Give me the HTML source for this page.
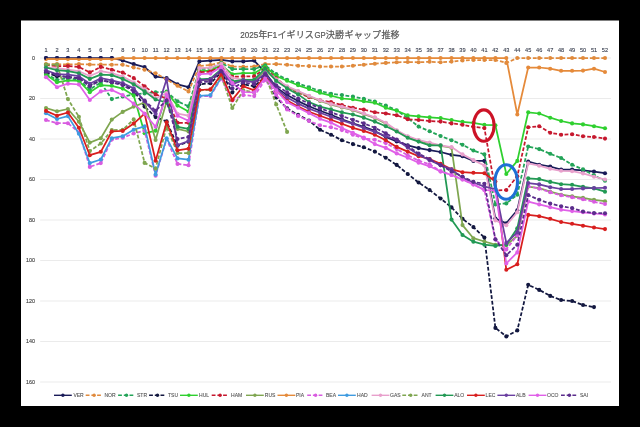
<!DOCTYPE html>
<html lang="ja"><head><meta charset="utf-8"><title>2025年F1イギリスGP決勝ギャップ推移</title>
<style>html,body{margin:0;padding:0;background:#000;}body{width:640px;height:427px;overflow:hidden;}svg{display:block;}text{font-family:"Liberation Sans","Noto Sans CJK JP",sans-serif;}</style></head><body>
<svg width="640" height="427" viewBox="0 0 640 427">
<rect x="0" y="0" width="640" height="427" fill="#000"/>
<rect x="21" y="20.5" width="598" height="385.5" fill="#fff"/>
<g stroke="#e2e2e2" stroke-width="0.7">
<line x1="40.2" x2="611" y1="58.00" y2="58.00"/>
<line x1="40.2" x2="611" y1="98.50" y2="98.50"/>
<line x1="40.2" x2="611" y1="139.00" y2="139.00"/>
<line x1="40.2" x2="611" y1="179.50" y2="179.50"/>
<line x1="40.2" x2="611" y1="220.00" y2="220.00"/>
<line x1="40.2" x2="611" y1="260.50" y2="260.50"/>
<line x1="40.2" x2="611" y1="301.00" y2="301.00"/>
<line x1="40.2" x2="611" y1="341.50" y2="341.50"/>
<line x1="40.2" x2="611" y1="382.00" y2="382.00"/>
</g>
<text y="37.7" font-size="9.1" fill="#555" stroke="#555" stroke-width="0.2"><tspan x="240.2" textLength="18" lengthAdjust="spacingAndGlyphs">2025</tspan><tspan x="258.4" textLength="8.8" lengthAdjust="spacingAndGlyphs">年</tspan><tspan x="267.2" textLength="10" lengthAdjust="spacingAndGlyphs">F1</tspan><tspan x="277.5" textLength="36.4" lengthAdjust="spacingAndGlyphs">イギリス</tspan><tspan x="314.4" textLength="11.2" lengthAdjust="spacingAndGlyphs">GP</tspan><tspan x="325.8" textLength="18.2" lengthAdjust="spacingAndGlyphs">決勝</tspan><tspan x="344.6" textLength="36.4" lengthAdjust="spacingAndGlyphs">ギャップ</tspan><tspan x="381.5" textLength="18.2" lengthAdjust="spacingAndGlyphs">推移</tspan></text>
<g font-size="5.6" fill="#3c4252" stroke="#3c4252" stroke-width="0.12" text-anchor="middle">
<text x="46.00" y="52.3">1</text>
<text x="56.96" y="52.3">2</text>
<text x="67.92" y="52.3">3</text>
<text x="78.88" y="52.3">4</text>
<text x="89.84" y="52.3">5</text>
<text x="100.80" y="52.3">6</text>
<text x="111.76" y="52.3">7</text>
<text x="122.72" y="52.3">8</text>
<text x="133.68" y="52.3">9</text>
<text x="144.64" y="52.3">10</text>
<text x="155.60" y="52.3">11</text>
<text x="166.56" y="52.3">12</text>
<text x="177.52" y="52.3">13</text>
<text x="188.48" y="52.3">14</text>
<text x="199.44" y="52.3">15</text>
<text x="210.40" y="52.3">16</text>
<text x="221.36" y="52.3">17</text>
<text x="232.32" y="52.3">18</text>
<text x="243.28" y="52.3">19</text>
<text x="254.24" y="52.3">20</text>
<text x="265.20" y="52.3">21</text>
<text x="276.16" y="52.3">22</text>
<text x="287.12" y="52.3">23</text>
<text x="298.08" y="52.3">24</text>
<text x="309.04" y="52.3">25</text>
<text x="320.00" y="52.3">26</text>
<text x="330.96" y="52.3">27</text>
<text x="341.92" y="52.3">28</text>
<text x="352.88" y="52.3">29</text>
<text x="363.84" y="52.3">30</text>
<text x="374.80" y="52.3">31</text>
<text x="385.76" y="52.3">32</text>
<text x="396.72" y="52.3">33</text>
<text x="407.68" y="52.3">34</text>
<text x="418.64" y="52.3">35</text>
<text x="429.60" y="52.3">36</text>
<text x="440.56" y="52.3">37</text>
<text x="451.52" y="52.3">38</text>
<text x="462.48" y="52.3">39</text>
<text x="473.44" y="52.3">40</text>
<text x="484.40" y="52.3">41</text>
<text x="495.36" y="52.3">42</text>
<text x="506.32" y="52.3">43</text>
<text x="517.28" y="52.3">44</text>
<text x="528.24" y="52.3">45</text>
<text x="539.20" y="52.3">46</text>
<text x="550.16" y="52.3">47</text>
<text x="561.12" y="52.3">48</text>
<text x="572.08" y="52.3">49</text>
<text x="583.04" y="52.3">50</text>
<text x="594.00" y="52.3">51</text>
<text x="604.96" y="52.3">52</text>
</g>
<g font-size="5.4" fill="#3a3a3a" stroke="#3a3a3a" stroke-width="0.1" text-anchor="end">
<text x="35" y="59.90">0</text>
<text x="35" y="100.40">20</text>
<text x="35" y="140.90">40</text>
<text x="35" y="181.40">60</text>
<text x="35" y="221.90">80</text>
<text x="35" y="262.40">100</text>
<text x="35" y="302.90">120</text>
<text x="35" y="343.40">140</text>
<text x="35" y="383.90">160</text>
</g>
<g style="filter:blur(0.3px)">
<g fill="#191b58" stroke="#191b58"><path d="M46.0,58.0 L57.0,58.0 L67.9,58.0 L78.9,58.0 L89.8,58.0 L100.8,58.0 L111.8,58.0 L122.7,60.5 L133.7,64.1 L144.6,67.1 L155.6,76.6 L166.6,78.0 L177.5,84.3 L188.5,87.2 L199.4,61.4 L210.4,60.6 L221.4,59.8 L232.3,61.4 L243.3,61.4 L254.2,60.6 L265.2,72.6 L276.2,87.4 L287.1,95.1 L298.1,101.1 L309.0,106.2 L320.0,110.7 L331.0,114.7 L341.9,119.2 L352.9,123.4 L363.8,126.8 L374.8,130.9 L385.8,137.0 L396.7,141.4 L407.7,145.3 L418.6,148.1 L429.6,150.1 L440.6,152.0 L451.5,154.8 L462.5,156.2 L473.4,160.9 L484.4,160.9 L495.4,218.6 L506.3,223.2 L517.3,210.3 L528.2,161.5 L539.2,164.7 L550.2,166.5 L561.1,169.6 L572.1,169.6 L583.0,170.4 L594.0,171.6 L605.0,173.2" fill="none" stroke-width="1.75" stroke-linejoin="round"/>
<g stroke="none"><circle cx="46.0" cy="58.0" r="2.05"/><circle cx="57.0" cy="58.0" r="2.05"/><circle cx="67.9" cy="58.0" r="2.05"/><circle cx="78.9" cy="58.0" r="2.05"/><circle cx="89.8" cy="58.0" r="2.05"/><circle cx="100.8" cy="58.0" r="2.05"/><circle cx="111.8" cy="58.0" r="2.05"/><circle cx="122.7" cy="60.5" r="2.05"/><circle cx="133.7" cy="64.1" r="2.05"/><circle cx="144.6" cy="67.1" r="2.05"/><circle cx="155.6" cy="76.6" r="2.05"/><circle cx="166.6" cy="78.0" r="2.05"/><circle cx="177.5" cy="84.3" r="2.05"/><circle cx="188.5" cy="87.2" r="2.05"/><circle cx="199.4" cy="61.4" r="2.05"/><circle cx="210.4" cy="60.6" r="2.05"/><circle cx="221.4" cy="59.8" r="2.05"/><circle cx="232.3" cy="61.4" r="2.05"/><circle cx="243.3" cy="61.4" r="2.05"/><circle cx="254.2" cy="60.6" r="2.05"/><circle cx="265.2" cy="72.6" r="2.05"/><circle cx="276.2" cy="87.4" r="2.05"/><circle cx="287.1" cy="95.1" r="2.05"/><circle cx="298.1" cy="101.1" r="2.05"/><circle cx="309.0" cy="106.2" r="2.05"/><circle cx="320.0" cy="110.7" r="2.05"/><circle cx="331.0" cy="114.7" r="2.05"/><circle cx="341.9" cy="119.2" r="2.05"/><circle cx="352.9" cy="123.4" r="2.05"/><circle cx="363.8" cy="126.8" r="2.05"/><circle cx="374.8" cy="130.9" r="2.05"/><circle cx="385.8" cy="137.0" r="2.05"/><circle cx="396.7" cy="141.4" r="2.05"/><circle cx="407.7" cy="145.3" r="2.05"/><circle cx="418.6" cy="148.1" r="2.05"/><circle cx="429.6" cy="150.1" r="2.05"/><circle cx="440.6" cy="152.0" r="2.05"/><circle cx="451.5" cy="154.8" r="2.05"/><circle cx="462.5" cy="156.2" r="2.05"/><circle cx="473.4" cy="160.9" r="2.05"/><circle cx="484.4" cy="160.9" r="2.05"/><circle cx="495.4" cy="218.6" r="2.05"/><circle cx="506.3" cy="223.2" r="2.05"/><circle cx="517.3" cy="210.3" r="2.05"/><circle cx="528.2" cy="161.5" r="2.05"/><circle cx="539.2" cy="164.7" r="2.05"/><circle cx="550.2" cy="166.5" r="2.05"/><circle cx="561.1" cy="169.6" r="2.05"/><circle cx="572.1" cy="169.6" r="2.05"/><circle cx="583.0" cy="170.4" r="2.05"/><circle cx="594.0" cy="171.6" r="2.05"/><circle cx="605.0" cy="173.2" r="2.05"/></g></g>
<g fill="#e08a3c" stroke="#e08a3c"><path d="M46.0,64.1 L57.0,64.1 L67.9,64.5 L78.9,64.1 L89.8,64.5 L100.8,64.5 L111.8,64.7 L122.7,64.7 L133.7,67.5 L144.6,69.7 L155.6,73.2 L166.6,79.5 L177.5,85.8 L188.5,91.4 L199.4,65.9 L210.4,65.1 L221.4,62.0 L232.3,66.5 L243.3,66.9 L254.2,66.5 L265.2,64.1 L276.2,64.1 L287.1,64.7 L298.1,65.7 L309.0,66.1 L320.0,66.5 L331.0,66.5 L341.9,66.5 L352.9,65.7 L363.8,64.7 L374.8,63.7 L385.8,62.9 L396.7,62.3 L407.7,62.0 L418.6,62.3 L429.6,61.8 L440.6,62.3 L451.5,61.6 L462.5,60.4 L473.4,60.0 L484.4,60.0 L495.4,60.0 L506.3,62.9 L517.3,58.0 L528.2,58.0 L539.2,58.0 L550.2,58.0 L561.1,58.0 L572.1,58.0 L583.0,58.0 L594.0,58.0 L605.0,58.0" fill="none" stroke-width="1.75" stroke-linejoin="round" stroke-dasharray="3.8,1.9"/>
<g stroke="none"><circle cx="46.0" cy="64.1" r="2.05"/><circle cx="57.0" cy="64.1" r="2.05"/><circle cx="67.9" cy="64.5" r="2.05"/><circle cx="78.9" cy="64.1" r="2.05"/><circle cx="89.8" cy="64.5" r="2.05"/><circle cx="100.8" cy="64.5" r="2.05"/><circle cx="111.8" cy="64.7" r="2.05"/><circle cx="122.7" cy="64.7" r="2.05"/><circle cx="133.7" cy="67.5" r="2.05"/><circle cx="144.6" cy="69.7" r="2.05"/><circle cx="155.6" cy="73.2" r="2.05"/><circle cx="166.6" cy="79.5" r="2.05"/><circle cx="177.5" cy="85.8" r="2.05"/><circle cx="188.5" cy="91.4" r="2.05"/><circle cx="199.4" cy="65.9" r="2.05"/><circle cx="210.4" cy="65.1" r="2.05"/><circle cx="221.4" cy="62.0" r="2.05"/><circle cx="232.3" cy="66.5" r="2.05"/><circle cx="243.3" cy="66.9" r="2.05"/><circle cx="254.2" cy="66.5" r="2.05"/><circle cx="265.2" cy="64.1" r="2.05"/><circle cx="276.2" cy="64.1" r="2.05"/><circle cx="287.1" cy="64.7" r="2.05"/><circle cx="298.1" cy="65.7" r="2.05"/><circle cx="309.0" cy="66.1" r="2.05"/><circle cx="320.0" cy="66.5" r="2.05"/><circle cx="331.0" cy="66.5" r="2.05"/><circle cx="341.9" cy="66.5" r="2.05"/><circle cx="352.9" cy="65.7" r="2.05"/><circle cx="363.8" cy="64.7" r="2.05"/><circle cx="374.8" cy="63.7" r="2.05"/><circle cx="385.8" cy="62.9" r="2.05"/><circle cx="396.7" cy="62.3" r="2.05"/><circle cx="407.7" cy="62.0" r="2.05"/><circle cx="418.6" cy="62.3" r="2.05"/><circle cx="429.6" cy="61.8" r="2.05"/><circle cx="440.6" cy="62.3" r="2.05"/><circle cx="451.5" cy="61.6" r="2.05"/><circle cx="462.5" cy="60.4" r="2.05"/><circle cx="473.4" cy="60.0" r="2.05"/><circle cx="484.4" cy="60.0" r="2.05"/><circle cx="495.4" cy="60.0" r="2.05"/><circle cx="506.3" cy="62.9" r="2.05"/><circle cx="517.3" cy="58.0" r="2.05"/><circle cx="528.2" cy="58.0" r="2.05"/><circle cx="539.2" cy="58.0" r="2.05"/><circle cx="550.2" cy="58.0" r="2.05"/><circle cx="561.1" cy="58.0" r="2.05"/><circle cx="572.1" cy="58.0" r="2.05"/><circle cx="583.0" cy="58.0" r="2.05"/><circle cx="594.0" cy="58.0" r="2.05"/><circle cx="605.0" cy="58.0" r="2.05"/></g></g>
<g fill="#23a458" stroke="#23a458"><path d="M46.0,73.8 L57.0,79.9 L67.9,78.2 L78.9,79.9 L89.8,89.4 L100.8,82.7 L111.8,99.1 L122.7,96.5 L133.7,94.4 L144.6,93.4 L155.6,92.4 L166.6,91.6 L177.5,101.3 L188.5,106.4 L199.4,69.1 L210.4,68.5 L221.4,63.1 L232.3,69.1 L243.3,69.1 L254.2,69.1 L265.2,65.3 L276.2,74.0 L287.1,79.7 L298.1,83.5 L309.0,87.2 L320.0,91.0 L331.0,93.8 L341.9,95.1 L352.9,96.5 L363.8,98.9 L374.8,101.5 L385.8,105.6 L396.7,110.2 L407.7,118.1 L418.6,126.6 L429.6,131.3 L440.6,136.0 L451.5,140.2 L462.5,144.7 L473.4,150.5 L484.4,154.4 L495.4,204.4 L506.3,203.4 L517.3,194.7 L528.2,146.5 L539.2,149.1 L550.2,153.8 L561.1,158.0 L572.1,164.7 L583.0,169.4 L594.0,175.4 L605.0,180.7" fill="none" stroke-width="1.75" stroke-linejoin="round" stroke-dasharray="3.8,1.9"/>
<g stroke="none"><circle cx="46.0" cy="73.8" r="2.05"/><circle cx="57.0" cy="79.9" r="2.05"/><circle cx="67.9" cy="78.2" r="2.05"/><circle cx="78.9" cy="79.9" r="2.05"/><circle cx="89.8" cy="89.4" r="2.05"/><circle cx="100.8" cy="82.7" r="2.05"/><circle cx="111.8" cy="99.1" r="2.05"/><circle cx="122.7" cy="96.5" r="2.05"/><circle cx="133.7" cy="94.4" r="2.05"/><circle cx="144.6" cy="93.4" r="2.05"/><circle cx="155.6" cy="92.4" r="2.05"/><circle cx="166.6" cy="91.6" r="2.05"/><circle cx="177.5" cy="101.3" r="2.05"/><circle cx="188.5" cy="106.4" r="2.05"/><circle cx="199.4" cy="69.1" r="2.05"/><circle cx="210.4" cy="68.5" r="2.05"/><circle cx="221.4" cy="63.1" r="2.05"/><circle cx="232.3" cy="69.1" r="2.05"/><circle cx="243.3" cy="69.1" r="2.05"/><circle cx="254.2" cy="69.1" r="2.05"/><circle cx="265.2" cy="65.3" r="2.05"/><circle cx="276.2" cy="74.0" r="2.05"/><circle cx="287.1" cy="79.7" r="2.05"/><circle cx="298.1" cy="83.5" r="2.05"/><circle cx="309.0" cy="87.2" r="2.05"/><circle cx="320.0" cy="91.0" r="2.05"/><circle cx="331.0" cy="93.8" r="2.05"/><circle cx="341.9" cy="95.1" r="2.05"/><circle cx="352.9" cy="96.5" r="2.05"/><circle cx="363.8" cy="98.9" r="2.05"/><circle cx="374.8" cy="101.5" r="2.05"/><circle cx="385.8" cy="105.6" r="2.05"/><circle cx="396.7" cy="110.2" r="2.05"/><circle cx="407.7" cy="118.1" r="2.05"/><circle cx="418.6" cy="126.6" r="2.05"/><circle cx="429.6" cy="131.3" r="2.05"/><circle cx="440.6" cy="136.0" r="2.05"/><circle cx="451.5" cy="140.2" r="2.05"/><circle cx="462.5" cy="144.7" r="2.05"/><circle cx="473.4" cy="150.5" r="2.05"/><circle cx="484.4" cy="154.4" r="2.05"/><circle cx="495.4" cy="204.4" r="2.05"/><circle cx="506.3" cy="203.4" r="2.05"/><circle cx="517.3" cy="194.7" r="2.05"/><circle cx="528.2" cy="146.5" r="2.05"/><circle cx="539.2" cy="149.1" r="2.05"/><circle cx="550.2" cy="153.8" r="2.05"/><circle cx="561.1" cy="158.0" r="2.05"/><circle cx="572.1" cy="164.7" r="2.05"/><circle cx="583.0" cy="169.4" r="2.05"/><circle cx="594.0" cy="175.4" r="2.05"/><circle cx="605.0" cy="180.7" r="2.05"/></g></g>
<g fill="#12173f" stroke="#12173f"><path d="M46.0,72.6 L57.0,76.2 L67.9,76.8 L78.9,78.2 L89.8,85.3 L100.8,80.3 L111.8,82.3 L122.7,84.3 L133.7,90.4 L144.6,106.6 L155.6,117.1 L166.6,121.4 L177.5,145.7 L188.5,141.8 L199.4,84.3 L210.4,83.3 L221.4,72.2 L232.3,92.4 L243.3,84.3 L254.2,86.3 L265.2,76.6 L276.2,97.5 L287.1,108.4 L298.1,114.9 L309.0,120.6 L320.0,129.7 L331.0,134.7 L341.9,140.2 L352.9,144.1 L363.8,147.3 L374.8,151.6 L385.8,157.8 L396.7,164.9 L407.7,174.0 L418.6,182.5 L429.6,190.0 L440.6,198.5 L451.5,207.4 L462.5,218.8 L473.4,227.1 L484.4,237.6 L495.4,327.9 L506.3,336.4 L517.3,330.4 L528.2,284.8 L539.2,289.9 L550.2,295.9 L561.1,300.0 L572.1,301.0 L583.0,305.0 L594.0,307.1" fill="none" stroke-width="1.75" stroke-linejoin="round" stroke-dasharray="3.8,1.9"/>
<g stroke="none"><circle cx="46.0" cy="72.6" r="2.05"/><circle cx="57.0" cy="76.2" r="2.05"/><circle cx="67.9" cy="76.8" r="2.05"/><circle cx="78.9" cy="78.2" r="2.05"/><circle cx="89.8" cy="85.3" r="2.05"/><circle cx="100.8" cy="80.3" r="2.05"/><circle cx="111.8" cy="82.3" r="2.05"/><circle cx="122.7" cy="84.3" r="2.05"/><circle cx="133.7" cy="90.4" r="2.05"/><circle cx="144.6" cy="106.6" r="2.05"/><circle cx="155.6" cy="117.1" r="2.05"/><circle cx="166.6" cy="121.4" r="2.05"/><circle cx="177.5" cy="145.7" r="2.05"/><circle cx="188.5" cy="141.8" r="2.05"/><circle cx="199.4" cy="84.3" r="2.05"/><circle cx="210.4" cy="83.3" r="2.05"/><circle cx="221.4" cy="72.2" r="2.05"/><circle cx="232.3" cy="92.4" r="2.05"/><circle cx="243.3" cy="84.3" r="2.05"/><circle cx="254.2" cy="86.3" r="2.05"/><circle cx="265.2" cy="76.6" r="2.05"/><circle cx="276.2" cy="97.5" r="2.05"/><circle cx="287.1" cy="108.4" r="2.05"/><circle cx="298.1" cy="114.9" r="2.05"/><circle cx="309.0" cy="120.6" r="2.05"/><circle cx="320.0" cy="129.7" r="2.05"/><circle cx="331.0" cy="134.7" r="2.05"/><circle cx="341.9" cy="140.2" r="2.05"/><circle cx="352.9" cy="144.1" r="2.05"/><circle cx="363.8" cy="147.3" r="2.05"/><circle cx="374.8" cy="151.6" r="2.05"/><circle cx="385.8" cy="157.8" r="2.05"/><circle cx="396.7" cy="164.9" r="2.05"/><circle cx="407.7" cy="174.0" r="2.05"/><circle cx="418.6" cy="182.5" r="2.05"/><circle cx="429.6" cy="190.0" r="2.05"/><circle cx="440.6" cy="198.5" r="2.05"/><circle cx="451.5" cy="207.4" r="2.05"/><circle cx="462.5" cy="218.8" r="2.05"/><circle cx="473.4" cy="227.1" r="2.05"/><circle cx="484.4" cy="237.6" r="2.05"/><circle cx="495.4" cy="327.9" r="2.05"/><circle cx="506.3" cy="336.4" r="2.05"/><circle cx="517.3" cy="330.4" r="2.05"/><circle cx="528.2" cy="284.8" r="2.05"/><circle cx="539.2" cy="289.9" r="2.05"/><circle cx="550.2" cy="295.9" r="2.05"/><circle cx="561.1" cy="300.0" r="2.05"/><circle cx="572.1" cy="301.0" r="2.05"/><circle cx="583.0" cy="305.0" r="2.05"/><circle cx="594.0" cy="307.1" r="2.05"/></g></g>
<g fill="#2fd02f" stroke="#2fd02f"><path d="M46.0,74.8 L57.0,82.3 L67.9,80.3 L78.9,80.9 L89.8,92.2 L100.8,85.1 L111.8,85.8 L122.7,88.6 L133.7,95.5 L144.6,133.3 L155.6,130.7 L166.6,92.0 L177.5,105.6 L188.5,111.5 L199.4,71.2 L210.4,70.6 L221.4,65.1 L232.3,74.2 L243.3,73.2 L254.2,73.2 L265.2,66.7 L276.2,76.0 L287.1,80.7 L298.1,85.3 L309.0,89.0 L320.0,92.8 L331.0,95.7 L341.9,98.5 L352.9,99.3 L363.8,101.3 L374.8,102.8 L385.8,107.8 L396.7,110.7 L407.7,115.3 L418.6,116.3 L429.6,117.3 L440.6,118.1 L451.5,120.0 L462.5,121.8 L473.4,122.8 L484.4,124.8 L495.4,125.2 L506.3,174.0 L517.3,160.9 L528.2,112.3 L539.2,113.5 L550.2,117.7 L561.1,121.0 L572.1,123.4 L583.0,124.4 L594.0,126.2 L605.0,128.3" fill="none" stroke-width="1.75" stroke-linejoin="round"/>
<g stroke="none"><circle cx="46.0" cy="74.8" r="2.05"/><circle cx="57.0" cy="82.3" r="2.05"/><circle cx="67.9" cy="80.3" r="2.05"/><circle cx="78.9" cy="80.9" r="2.05"/><circle cx="89.8" cy="92.2" r="2.05"/><circle cx="100.8" cy="85.1" r="2.05"/><circle cx="111.8" cy="85.8" r="2.05"/><circle cx="122.7" cy="88.6" r="2.05"/><circle cx="133.7" cy="95.5" r="2.05"/><circle cx="144.6" cy="133.3" r="2.05"/><circle cx="155.6" cy="130.7" r="2.05"/><circle cx="166.6" cy="92.0" r="2.05"/><circle cx="177.5" cy="105.6" r="2.05"/><circle cx="188.5" cy="111.5" r="2.05"/><circle cx="199.4" cy="71.2" r="2.05"/><circle cx="210.4" cy="70.6" r="2.05"/><circle cx="221.4" cy="65.1" r="2.05"/><circle cx="232.3" cy="74.2" r="2.05"/><circle cx="243.3" cy="73.2" r="2.05"/><circle cx="254.2" cy="73.2" r="2.05"/><circle cx="265.2" cy="66.7" r="2.05"/><circle cx="276.2" cy="76.0" r="2.05"/><circle cx="287.1" cy="80.7" r="2.05"/><circle cx="298.1" cy="85.3" r="2.05"/><circle cx="309.0" cy="89.0" r="2.05"/><circle cx="320.0" cy="92.8" r="2.05"/><circle cx="331.0" cy="95.7" r="2.05"/><circle cx="341.9" cy="98.5" r="2.05"/><circle cx="352.9" cy="99.3" r="2.05"/><circle cx="363.8" cy="101.3" r="2.05"/><circle cx="374.8" cy="102.8" r="2.05"/><circle cx="385.8" cy="107.8" r="2.05"/><circle cx="396.7" cy="110.7" r="2.05"/><circle cx="407.7" cy="115.3" r="2.05"/><circle cx="418.6" cy="116.3" r="2.05"/><circle cx="429.6" cy="117.3" r="2.05"/><circle cx="440.6" cy="118.1" r="2.05"/><circle cx="451.5" cy="120.0" r="2.05"/><circle cx="462.5" cy="121.8" r="2.05"/><circle cx="473.4" cy="122.8" r="2.05"/><circle cx="484.4" cy="124.8" r="2.05"/><circle cx="495.4" cy="125.2" r="2.05"/><circle cx="506.3" cy="174.0" r="2.05"/><circle cx="517.3" cy="160.9" r="2.05"/><circle cx="528.2" cy="112.3" r="2.05"/><circle cx="539.2" cy="113.5" r="2.05"/><circle cx="550.2" cy="117.7" r="2.05"/><circle cx="561.1" cy="121.0" r="2.05"/><circle cx="572.1" cy="123.4" r="2.05"/><circle cx="583.0" cy="124.4" r="2.05"/><circle cx="594.0" cy="126.2" r="2.05"/><circle cx="605.0" cy="128.3" r="2.05"/></g></g>
<g fill="#c6182e" stroke="#c6182e"><path d="M46.0,65.1 L57.0,66.1 L67.9,66.1 L78.9,66.9 L89.8,72.4 L100.8,66.9 L111.8,69.7 L122.7,72.6 L133.7,78.0 L144.6,86.3 L155.6,94.4 L166.6,98.5 L177.5,122.8 L188.5,122.8 L199.4,72.2 L210.4,71.6 L221.4,66.1 L232.3,76.8 L243.3,76.4 L254.2,76.4 L265.2,68.5 L276.2,78.2 L287.1,87.4 L298.1,92.8 L309.0,97.1 L320.0,100.3 L331.0,102.1 L341.9,105.0 L352.9,107.8 L363.8,109.6 L374.8,112.3 L385.8,113.5 L396.7,115.3 L407.7,119.2 L418.6,120.0 L429.6,121.0 L440.6,121.6 L451.5,123.4 L462.5,124.8 L473.4,126.8 L484.4,128.1 L495.4,190.4 L506.3,190.0 L517.3,176.3 L528.2,127.3 L539.2,126.2 L550.2,132.7 L561.1,134.7 L572.1,134.3 L583.0,136.2 L594.0,137.0 L605.0,138.6" fill="none" stroke-width="1.75" stroke-linejoin="round" stroke-dasharray="3.8,1.9"/>
<g stroke="none"><circle cx="46.0" cy="65.1" r="2.05"/><circle cx="57.0" cy="66.1" r="2.05"/><circle cx="67.9" cy="66.1" r="2.05"/><circle cx="78.9" cy="66.9" r="2.05"/><circle cx="89.8" cy="72.4" r="2.05"/><circle cx="100.8" cy="66.9" r="2.05"/><circle cx="111.8" cy="69.7" r="2.05"/><circle cx="122.7" cy="72.6" r="2.05"/><circle cx="133.7" cy="78.0" r="2.05"/><circle cx="144.6" cy="86.3" r="2.05"/><circle cx="155.6" cy="94.4" r="2.05"/><circle cx="166.6" cy="98.5" r="2.05"/><circle cx="177.5" cy="122.8" r="2.05"/><circle cx="188.5" cy="122.8" r="2.05"/><circle cx="199.4" cy="72.2" r="2.05"/><circle cx="210.4" cy="71.6" r="2.05"/><circle cx="221.4" cy="66.1" r="2.05"/><circle cx="232.3" cy="76.8" r="2.05"/><circle cx="243.3" cy="76.4" r="2.05"/><circle cx="254.2" cy="76.4" r="2.05"/><circle cx="265.2" cy="68.5" r="2.05"/><circle cx="276.2" cy="78.2" r="2.05"/><circle cx="287.1" cy="87.4" r="2.05"/><circle cx="298.1" cy="92.8" r="2.05"/><circle cx="309.0" cy="97.1" r="2.05"/><circle cx="320.0" cy="100.3" r="2.05"/><circle cx="331.0" cy="102.1" r="2.05"/><circle cx="341.9" cy="105.0" r="2.05"/><circle cx="352.9" cy="107.8" r="2.05"/><circle cx="363.8" cy="109.6" r="2.05"/><circle cx="374.8" cy="112.3" r="2.05"/><circle cx="385.8" cy="113.5" r="2.05"/><circle cx="396.7" cy="115.3" r="2.05"/><circle cx="407.7" cy="119.2" r="2.05"/><circle cx="418.6" cy="120.0" r="2.05"/><circle cx="429.6" cy="121.0" r="2.05"/><circle cx="440.6" cy="121.6" r="2.05"/><circle cx="451.5" cy="123.4" r="2.05"/><circle cx="462.5" cy="124.8" r="2.05"/><circle cx="473.4" cy="126.8" r="2.05"/><circle cx="484.4" cy="128.1" r="2.05"/><circle cx="495.4" cy="190.4" r="2.05"/><circle cx="506.3" cy="190.0" r="2.05"/><circle cx="517.3" cy="176.3" r="2.05"/><circle cx="528.2" cy="127.3" r="2.05"/><circle cx="539.2" cy="126.2" r="2.05"/><circle cx="550.2" cy="132.7" r="2.05"/><circle cx="561.1" cy="134.7" r="2.05"/><circle cx="572.1" cy="134.3" r="2.05"/><circle cx="583.0" cy="136.2" r="2.05"/><circle cx="594.0" cy="137.0" r="2.05"/><circle cx="605.0" cy="138.6" r="2.05"/></g></g>
<g fill="#7fa650" stroke="#7fa650"><path d="M46.0,108.0 L57.0,111.3 L67.9,109.0 L78.9,121.8 L89.8,142.6 L100.8,138.2 L111.8,119.6 L122.7,111.9 L133.7,106.6 L144.6,102.5 L155.6,140.0 L166.6,101.5 L177.5,128.9 L188.5,131.5 L199.4,80.3 L210.4,79.7 L221.4,70.2 L232.3,82.3 L243.3,80.9 L254.2,80.9 L265.2,70.6 L276.2,79.9 L287.1,87.0 L298.1,91.6 L309.0,96.3 L320.0,100.9 L331.0,104.6 L341.9,107.4 L352.9,110.2 L363.8,114.1 L374.8,117.9 L385.8,123.4 L396.7,130.9 L407.7,136.8 L418.6,140.6 L429.6,143.3 L440.6,145.9 L451.5,147.7 L462.5,225.1 L473.4,238.2 L484.4,241.5 L495.4,244.7 L506.3,245.1 L517.3,235.8 L528.2,186.6 L539.2,188.2 L550.2,191.7 L561.1,194.7 L572.1,196.3 L583.0,197.9 L594.0,199.8 L605.0,201.2" fill="none" stroke-width="1.75" stroke-linejoin="round"/>
<g stroke="none"><circle cx="46.0" cy="108.0" r="2.05"/><circle cx="57.0" cy="111.3" r="2.05"/><circle cx="67.9" cy="109.0" r="2.05"/><circle cx="78.9" cy="121.8" r="2.05"/><circle cx="89.8" cy="142.6" r="2.05"/><circle cx="100.8" cy="138.2" r="2.05"/><circle cx="111.8" cy="119.6" r="2.05"/><circle cx="122.7" cy="111.9" r="2.05"/><circle cx="133.7" cy="106.6" r="2.05"/><circle cx="144.6" cy="102.5" r="2.05"/><circle cx="155.6" cy="140.0" r="2.05"/><circle cx="166.6" cy="101.5" r="2.05"/><circle cx="177.5" cy="128.9" r="2.05"/><circle cx="188.5" cy="131.5" r="2.05"/><circle cx="199.4" cy="80.3" r="2.05"/><circle cx="210.4" cy="79.7" r="2.05"/><circle cx="221.4" cy="70.2" r="2.05"/><circle cx="232.3" cy="82.3" r="2.05"/><circle cx="243.3" cy="80.9" r="2.05"/><circle cx="254.2" cy="80.9" r="2.05"/><circle cx="265.2" cy="70.6" r="2.05"/><circle cx="276.2" cy="79.9" r="2.05"/><circle cx="287.1" cy="87.0" r="2.05"/><circle cx="298.1" cy="91.6" r="2.05"/><circle cx="309.0" cy="96.3" r="2.05"/><circle cx="320.0" cy="100.9" r="2.05"/><circle cx="331.0" cy="104.6" r="2.05"/><circle cx="341.9" cy="107.4" r="2.05"/><circle cx="352.9" cy="110.2" r="2.05"/><circle cx="363.8" cy="114.1" r="2.05"/><circle cx="374.8" cy="117.9" r="2.05"/><circle cx="385.8" cy="123.4" r="2.05"/><circle cx="396.7" cy="130.9" r="2.05"/><circle cx="407.7" cy="136.8" r="2.05"/><circle cx="418.6" cy="140.6" r="2.05"/><circle cx="429.6" cy="143.3" r="2.05"/><circle cx="440.6" cy="145.9" r="2.05"/><circle cx="451.5" cy="147.7" r="2.05"/><circle cx="462.5" cy="225.1" r="2.05"/><circle cx="473.4" cy="238.2" r="2.05"/><circle cx="484.4" cy="241.5" r="2.05"/><circle cx="495.4" cy="244.7" r="2.05"/><circle cx="506.3" cy="245.1" r="2.05"/><circle cx="517.3" cy="235.8" r="2.05"/><circle cx="528.2" cy="186.6" r="2.05"/><circle cx="539.2" cy="188.2" r="2.05"/><circle cx="550.2" cy="191.7" r="2.05"/><circle cx="561.1" cy="194.7" r="2.05"/><circle cx="572.1" cy="196.3" r="2.05"/><circle cx="583.0" cy="197.9" r="2.05"/><circle cx="594.0" cy="199.8" r="2.05"/><circle cx="605.0" cy="201.2" r="2.05"/></g></g>
<g fill="#e58a3a" stroke="#e58a3a"><path d="M46.0,59.1 L57.0,59.1 L67.9,59.1 L78.9,59.1 L89.8,59.1 L100.8,59.1 L111.8,59.1 L122.7,58.0 L133.7,58.0 L144.6,58.0 L155.6,58.0 L166.6,58.0 L177.5,58.0 L188.5,58.0 L199.4,58.0 L210.4,58.0 L221.4,58.0 L232.3,58.0 L243.3,58.0 L254.2,58.0 L265.2,58.0 L276.2,58.0 L287.1,58.0 L298.1,58.0 L309.0,58.0 L320.0,58.0 L331.0,58.0 L341.9,58.0 L352.9,58.0 L363.8,58.0 L374.8,58.0 L385.8,58.0 L396.7,58.0 L407.7,58.0 L418.6,58.0 L429.6,58.0 L440.6,58.0 L451.5,58.0 L462.5,58.0 L473.4,58.0 L484.4,58.0 L495.4,58.0 L506.3,58.0 L517.3,114.5 L528.2,67.5 L539.2,67.5 L550.2,68.7 L561.1,70.8 L572.1,70.8 L583.0,70.6 L594.0,68.7 L605.0,72.0" fill="none" stroke-width="1.75" stroke-linejoin="round"/>
<g stroke="none"><circle cx="46.0" cy="59.1" r="2.05"/><circle cx="57.0" cy="59.1" r="2.05"/><circle cx="67.9" cy="59.1" r="2.05"/><circle cx="78.9" cy="59.1" r="2.05"/><circle cx="89.8" cy="59.1" r="2.05"/><circle cx="100.8" cy="59.1" r="2.05"/><circle cx="111.8" cy="59.1" r="2.05"/><circle cx="122.7" cy="58.0" r="2.05"/><circle cx="133.7" cy="58.0" r="2.05"/><circle cx="144.6" cy="58.0" r="2.05"/><circle cx="155.6" cy="58.0" r="2.05"/><circle cx="166.6" cy="58.0" r="2.05"/><circle cx="177.5" cy="58.0" r="2.05"/><circle cx="188.5" cy="58.0" r="2.05"/><circle cx="199.4" cy="58.0" r="2.05"/><circle cx="210.4" cy="58.0" r="2.05"/><circle cx="221.4" cy="58.0" r="2.05"/><circle cx="232.3" cy="58.0" r="2.05"/><circle cx="243.3" cy="58.0" r="2.05"/><circle cx="254.2" cy="58.0" r="2.05"/><circle cx="265.2" cy="58.0" r="2.05"/><circle cx="276.2" cy="58.0" r="2.05"/><circle cx="287.1" cy="58.0" r="2.05"/><circle cx="298.1" cy="58.0" r="2.05"/><circle cx="309.0" cy="58.0" r="2.05"/><circle cx="320.0" cy="58.0" r="2.05"/><circle cx="331.0" cy="58.0" r="2.05"/><circle cx="341.9" cy="58.0" r="2.05"/><circle cx="352.9" cy="58.0" r="2.05"/><circle cx="363.8" cy="58.0" r="2.05"/><circle cx="374.8" cy="58.0" r="2.05"/><circle cx="385.8" cy="58.0" r="2.05"/><circle cx="396.7" cy="58.0" r="2.05"/><circle cx="407.7" cy="58.0" r="2.05"/><circle cx="418.6" cy="58.0" r="2.05"/><circle cx="429.6" cy="58.0" r="2.05"/><circle cx="440.6" cy="58.0" r="2.05"/><circle cx="451.5" cy="58.0" r="2.05"/><circle cx="462.5" cy="58.0" r="2.05"/><circle cx="473.4" cy="58.0" r="2.05"/><circle cx="484.4" cy="58.0" r="2.05"/><circle cx="495.4" cy="58.0" r="2.05"/><circle cx="506.3" cy="58.0" r="2.05"/><circle cx="517.3" cy="114.5" r="2.05"/><circle cx="528.2" cy="67.5" r="2.05"/><circle cx="539.2" cy="67.5" r="2.05"/><circle cx="550.2" cy="68.7" r="2.05"/><circle cx="561.1" cy="70.8" r="2.05"/><circle cx="572.1" cy="70.8" r="2.05"/><circle cx="583.0" cy="70.6" r="2.05"/><circle cx="594.0" cy="68.7" r="2.05"/><circle cx="605.0" cy="72.0" r="2.05"/></g></g>
<g fill="#191b58"><circle cx="46.0" cy="58.0" r="2.1"/><circle cx="57.0" cy="58.0" r="2.1"/><circle cx="67.9" cy="58.0" r="2.1"/><circle cx="78.9" cy="58.0" r="2.1"/><circle cx="89.8" cy="58.0" r="2.1"/><circle cx="100.8" cy="58.0" r="2.1"/><circle cx="111.8" cy="58.0" r="2.1"/></g>
<path d="M46.0,59.1 L111.8,59.1 L122.7,58.0" fill="none" stroke="#e58a3a" stroke-width="1.9"/>
<g fill="#d85be0" stroke="#d85be0"><path d="M46.0,120.0 L57.0,123.2 L67.9,123.2 L78.9,132.3 L89.8,166.9 L100.8,163.1 L111.8,139.6 L122.7,137.8 L133.7,133.5 L144.6,130.7 L155.6,175.7 L166.6,139.0 L177.5,163.9 L188.5,165.3 L199.4,96.5 L210.4,95.9 L221.4,78.2 L232.3,100.5 L243.3,95.1 L254.2,96.1 L265.2,79.9 L276.2,94.7 L287.1,109.4 L298.1,115.9 L309.0,121.0 L320.0,125.2 L331.0,127.3 L341.9,130.1 L352.9,134.7 L363.8,138.4 L374.8,139.8 L385.8,143.1 L396.7,149.1 L407.7,155.2 L418.6,160.7 L429.6,164.3 L440.6,171.4 L451.5,175.0 L462.5,179.5 L473.4,184.4 L484.4,190.0 L495.4,239.6 L506.3,249.4 L517.3,235.4 L528.2,186.2 L539.2,188.6 L550.2,192.3 L561.1,195.3 L572.1,197.3 L583.0,199.3 L594.0,201.8 L605.0,204.0" fill="none" stroke-width="1.75" stroke-linejoin="round" stroke-dasharray="3.8,1.9"/>
<g stroke="none"><circle cx="46.0" cy="120.0" r="2.05"/><circle cx="57.0" cy="123.2" r="2.05"/><circle cx="67.9" cy="123.2" r="2.05"/><circle cx="78.9" cy="132.3" r="2.05"/><circle cx="89.8" cy="166.9" r="2.05"/><circle cx="100.8" cy="163.1" r="2.05"/><circle cx="111.8" cy="139.6" r="2.05"/><circle cx="122.7" cy="137.8" r="2.05"/><circle cx="133.7" cy="133.5" r="2.05"/><circle cx="144.6" cy="130.7" r="2.05"/><circle cx="155.6" cy="175.7" r="2.05"/><circle cx="166.6" cy="139.0" r="2.05"/><circle cx="177.5" cy="163.9" r="2.05"/><circle cx="188.5" cy="165.3" r="2.05"/><circle cx="199.4" cy="96.5" r="2.05"/><circle cx="210.4" cy="95.9" r="2.05"/><circle cx="221.4" cy="78.2" r="2.05"/><circle cx="232.3" cy="100.5" r="2.05"/><circle cx="243.3" cy="95.1" r="2.05"/><circle cx="254.2" cy="96.1" r="2.05"/><circle cx="265.2" cy="79.9" r="2.05"/><circle cx="276.2" cy="94.7" r="2.05"/><circle cx="287.1" cy="109.4" r="2.05"/><circle cx="298.1" cy="115.9" r="2.05"/><circle cx="309.0" cy="121.0" r="2.05"/><circle cx="320.0" cy="125.2" r="2.05"/><circle cx="331.0" cy="127.3" r="2.05"/><circle cx="341.9" cy="130.1" r="2.05"/><circle cx="352.9" cy="134.7" r="2.05"/><circle cx="363.8" cy="138.4" r="2.05"/><circle cx="374.8" cy="139.8" r="2.05"/><circle cx="385.8" cy="143.1" r="2.05"/><circle cx="396.7" cy="149.1" r="2.05"/><circle cx="407.7" cy="155.2" r="2.05"/><circle cx="418.6" cy="160.7" r="2.05"/><circle cx="429.6" cy="164.3" r="2.05"/><circle cx="440.6" cy="171.4" r="2.05"/><circle cx="451.5" cy="175.0" r="2.05"/><circle cx="462.5" cy="179.5" r="2.05"/><circle cx="473.4" cy="184.4" r="2.05"/><circle cx="484.4" cy="190.0" r="2.05"/><circle cx="495.4" cy="239.6" r="2.05"/><circle cx="506.3" cy="249.4" r="2.05"/><circle cx="517.3" cy="235.4" r="2.05"/><circle cx="528.2" cy="186.2" r="2.05"/><circle cx="539.2" cy="188.6" r="2.05"/><circle cx="550.2" cy="192.3" r="2.05"/><circle cx="561.1" cy="195.3" r="2.05"/><circle cx="572.1" cy="197.3" r="2.05"/><circle cx="583.0" cy="199.3" r="2.05"/><circle cx="594.0" cy="201.8" r="2.05"/><circle cx="605.0" cy="204.0" r="2.05"/></g></g>
<g fill="#3f9be0" stroke="#3f9be0"><path d="M46.0,113.3 L57.0,119.0 L67.9,116.1 L78.9,133.7 L89.8,163.1 L100.8,159.5 L111.8,138.2 L122.7,136.2 L133.7,129.7 L144.6,126.4 L155.6,174.6 L166.6,138.2 L177.5,158.4 L188.5,159.7 L199.4,95.9 L210.4,95.1 L221.4,77.2" fill="none" stroke-width="1.75" stroke-linejoin="round"/>
<g stroke="none"><circle cx="46.0" cy="113.3" r="2.05"/><circle cx="57.0" cy="119.0" r="2.05"/><circle cx="67.9" cy="116.1" r="2.05"/><circle cx="78.9" cy="133.7" r="2.05"/><circle cx="89.8" cy="163.1" r="2.05"/><circle cx="100.8" cy="159.5" r="2.05"/><circle cx="111.8" cy="138.2" r="2.05"/><circle cx="122.7" cy="136.2" r="2.05"/><circle cx="133.7" cy="129.7" r="2.05"/><circle cx="144.6" cy="126.4" r="2.05"/><circle cx="155.6" cy="174.6" r="2.05"/><circle cx="166.6" cy="138.2" r="2.05"/><circle cx="177.5" cy="158.4" r="2.05"/><circle cx="188.5" cy="159.7" r="2.05"/><circle cx="199.4" cy="95.9" r="2.05"/><circle cx="210.4" cy="95.1" r="2.05"/><circle cx="221.4" cy="77.2" r="2.05"/></g></g>
<g fill="#e8a0cc" stroke="#e8a0cc"><path d="M46.0,67.5 L57.0,68.1 L67.9,69.7 L78.9,71.2 L89.8,76.0 L100.8,71.2 L111.8,73.2 L122.7,76.6 L133.7,82.3 L144.6,89.4 L155.6,98.5 L166.6,93.0 L177.5,113.7 L188.5,115.7 L199.4,68.1 L210.4,67.7 L221.4,63.7 L232.3,78.2 L243.3,79.5 L254.2,79.5 L265.2,69.3 L276.2,79.3 L287.1,86.3 L298.1,91.0 L309.0,95.7 L320.0,100.3 L331.0,104.0 L341.9,106.8 L352.9,109.6 L363.8,113.5 L374.8,117.3 L385.8,122.8 L396.7,130.3 L407.7,136.2 L418.6,140.0 L429.6,142.6 L440.6,145.3 L451.5,147.1 L462.5,154.4 L473.4,160.1 L484.4,165.5 L495.4,220.4 L506.3,225.3 L517.3,212.3 L528.2,163.3 L539.2,165.7 L550.2,168.8 L561.1,170.8 L572.1,171.2 L583.0,173.4 L594.0,176.7 L605.0,179.5" fill="none" stroke-width="1.75" stroke-linejoin="round"/>
<g stroke="none"><circle cx="46.0" cy="67.5" r="2.05"/><circle cx="57.0" cy="68.1" r="2.05"/><circle cx="67.9" cy="69.7" r="2.05"/><circle cx="78.9" cy="71.2" r="2.05"/><circle cx="89.8" cy="76.0" r="2.05"/><circle cx="100.8" cy="71.2" r="2.05"/><circle cx="111.8" cy="73.2" r="2.05"/><circle cx="122.7" cy="76.6" r="2.05"/><circle cx="133.7" cy="82.3" r="2.05"/><circle cx="144.6" cy="89.4" r="2.05"/><circle cx="155.6" cy="98.5" r="2.05"/><circle cx="166.6" cy="93.0" r="2.05"/><circle cx="177.5" cy="113.7" r="2.05"/><circle cx="188.5" cy="115.7" r="2.05"/><circle cx="199.4" cy="68.1" r="2.05"/><circle cx="210.4" cy="67.7" r="2.05"/><circle cx="221.4" cy="63.7" r="2.05"/><circle cx="232.3" cy="78.2" r="2.05"/><circle cx="243.3" cy="79.5" r="2.05"/><circle cx="254.2" cy="79.5" r="2.05"/><circle cx="265.2" cy="69.3" r="2.05"/><circle cx="276.2" cy="79.3" r="2.05"/><circle cx="287.1" cy="86.3" r="2.05"/><circle cx="298.1" cy="91.0" r="2.05"/><circle cx="309.0" cy="95.7" r="2.05"/><circle cx="320.0" cy="100.3" r="2.05"/><circle cx="331.0" cy="104.0" r="2.05"/><circle cx="341.9" cy="106.8" r="2.05"/><circle cx="352.9" cy="109.6" r="2.05"/><circle cx="363.8" cy="113.5" r="2.05"/><circle cx="374.8" cy="117.3" r="2.05"/><circle cx="385.8" cy="122.8" r="2.05"/><circle cx="396.7" cy="130.3" r="2.05"/><circle cx="407.7" cy="136.2" r="2.05"/><circle cx="418.6" cy="140.0" r="2.05"/><circle cx="429.6" cy="142.6" r="2.05"/><circle cx="440.6" cy="145.3" r="2.05"/><circle cx="451.5" cy="147.1" r="2.05"/><circle cx="462.5" cy="154.4" r="2.05"/><circle cx="473.4" cy="160.1" r="2.05"/><circle cx="484.4" cy="165.5" r="2.05"/><circle cx="495.4" cy="220.4" r="2.05"/><circle cx="506.3" cy="225.3" r="2.05"/><circle cx="517.3" cy="212.3" r="2.05"/><circle cx="528.2" cy="163.3" r="2.05"/><circle cx="539.2" cy="165.7" r="2.05"/><circle cx="550.2" cy="168.8" r="2.05"/><circle cx="561.1" cy="170.8" r="2.05"/><circle cx="572.1" cy="171.2" r="2.05"/><circle cx="583.0" cy="173.4" r="2.05"/><circle cx="594.0" cy="176.7" r="2.05"/><circle cx="605.0" cy="179.5" r="2.05"/></g></g>
<g fill="#7fa650" stroke="#7fa650"><path d="M46.0,64.5 L57.0,64.5 L67.9,99.1 L78.9,116.7 L89.8,151.1 L100.8,143.5 L111.8,130.1 L122.7,129.9 L133.7,119.4 L144.6,162.9 L155.6,168.6 L166.6,126.8 L177.5,153.0 L188.5,153.0 L199.4,90.4 L210.4,89.8 L221.4,76.2 L232.3,108.0 L243.3,90.4 L254.2,92.4 L265.2,75.0 L276.2,104.4 L287.1,131.9" fill="none" stroke-width="1.75" stroke-linejoin="round" stroke-dasharray="3.8,1.9"/>
<g stroke="none"><circle cx="46.0" cy="64.5" r="2.05"/><circle cx="57.0" cy="64.5" r="2.05"/><circle cx="67.9" cy="99.1" r="2.05"/><circle cx="78.9" cy="116.7" r="2.05"/><circle cx="89.8" cy="151.1" r="2.05"/><circle cx="100.8" cy="143.5" r="2.05"/><circle cx="111.8" cy="130.1" r="2.05"/><circle cx="122.7" cy="129.9" r="2.05"/><circle cx="133.7" cy="119.4" r="2.05"/><circle cx="144.6" cy="162.9" r="2.05"/><circle cx="155.6" cy="168.6" r="2.05"/><circle cx="166.6" cy="126.8" r="2.05"/><circle cx="177.5" cy="153.0" r="2.05"/><circle cx="188.5" cy="153.0" r="2.05"/><circle cx="199.4" cy="90.4" r="2.05"/><circle cx="210.4" cy="89.8" r="2.05"/><circle cx="221.4" cy="76.2" r="2.05"/><circle cx="232.3" cy="108.0" r="2.05"/><circle cx="243.3" cy="90.4" r="2.05"/><circle cx="254.2" cy="92.4" r="2.05"/><circle cx="265.2" cy="75.0" r="2.05"/><circle cx="276.2" cy="104.4" r="2.05"/><circle cx="287.1" cy="131.9" r="2.05"/></g></g>
<g fill="#229954" stroke="#229954"><path d="M46.0,67.5 L57.0,70.2 L67.9,71.2 L78.9,73.2 L89.8,78.9 L100.8,74.6 L111.8,75.2 L122.7,78.9 L133.7,84.3 L144.6,91.4 L155.6,99.5 L166.6,102.5 L177.5,126.8 L188.5,128.9 L199.4,79.3 L210.4,78.7 L221.4,69.1 L232.3,81.3 L243.3,79.9 L254.2,79.9 L265.2,68.7 L276.2,80.9 L287.1,88.4 L298.1,94.4 L309.0,102.1 L320.0,106.6 L331.0,109.4 L341.9,112.3 L352.9,114.5 L363.8,117.7 L374.8,121.6 L385.8,126.2 L396.7,131.5 L407.7,137.8 L418.6,141.6 L429.6,145.3 L440.6,145.3 L451.5,219.6 L462.5,235.0 L473.4,241.7 L484.4,244.7 L495.4,245.9 L506.3,244.7 L517.3,228.3 L528.2,178.3 L539.2,179.1 L550.2,181.9 L561.1,184.2 L572.1,184.8 L583.0,186.8 L594.0,188.4 L605.0,191.7" fill="none" stroke-width="1.75" stroke-linejoin="round"/>
<g stroke="none"><circle cx="46.0" cy="67.5" r="2.05"/><circle cx="57.0" cy="70.2" r="2.05"/><circle cx="67.9" cy="71.2" r="2.05"/><circle cx="78.9" cy="73.2" r="2.05"/><circle cx="89.8" cy="78.9" r="2.05"/><circle cx="100.8" cy="74.6" r="2.05"/><circle cx="111.8" cy="75.2" r="2.05"/><circle cx="122.7" cy="78.9" r="2.05"/><circle cx="133.7" cy="84.3" r="2.05"/><circle cx="144.6" cy="91.4" r="2.05"/><circle cx="155.6" cy="99.5" r="2.05"/><circle cx="166.6" cy="102.5" r="2.05"/><circle cx="177.5" cy="126.8" r="2.05"/><circle cx="188.5" cy="128.9" r="2.05"/><circle cx="199.4" cy="79.3" r="2.05"/><circle cx="210.4" cy="78.7" r="2.05"/><circle cx="221.4" cy="69.1" r="2.05"/><circle cx="232.3" cy="81.3" r="2.05"/><circle cx="243.3" cy="79.9" r="2.05"/><circle cx="254.2" cy="79.9" r="2.05"/><circle cx="265.2" cy="68.7" r="2.05"/><circle cx="276.2" cy="80.9" r="2.05"/><circle cx="287.1" cy="88.4" r="2.05"/><circle cx="298.1" cy="94.4" r="2.05"/><circle cx="309.0" cy="102.1" r="2.05"/><circle cx="320.0" cy="106.6" r="2.05"/><circle cx="331.0" cy="109.4" r="2.05"/><circle cx="341.9" cy="112.3" r="2.05"/><circle cx="352.9" cy="114.5" r="2.05"/><circle cx="363.8" cy="117.7" r="2.05"/><circle cx="374.8" cy="121.6" r="2.05"/><circle cx="385.8" cy="126.2" r="2.05"/><circle cx="396.7" cy="131.5" r="2.05"/><circle cx="407.7" cy="137.8" r="2.05"/><circle cx="418.6" cy="141.6" r="2.05"/><circle cx="429.6" cy="145.3" r="2.05"/><circle cx="440.6" cy="145.3" r="2.05"/><circle cx="451.5" cy="219.6" r="2.05"/><circle cx="462.5" cy="235.0" r="2.05"/><circle cx="473.4" cy="241.7" r="2.05"/><circle cx="484.4" cy="244.7" r="2.05"/><circle cx="495.4" cy="245.9" r="2.05"/><circle cx="506.3" cy="244.7" r="2.05"/><circle cx="517.3" cy="228.3" r="2.05"/><circle cx="528.2" cy="178.3" r="2.05"/><circle cx="539.2" cy="179.1" r="2.05"/><circle cx="550.2" cy="181.9" r="2.05"/><circle cx="561.1" cy="184.2" r="2.05"/><circle cx="572.1" cy="184.8" r="2.05"/><circle cx="583.0" cy="186.8" r="2.05"/><circle cx="594.0" cy="188.4" r="2.05"/><circle cx="605.0" cy="191.7" r="2.05"/></g></g>
<g fill="#d81e1e" stroke="#d81e1e"><path d="M46.0,110.9 L57.0,115.7 L67.9,112.5 L78.9,127.7 L89.8,155.2 L100.8,151.8 L111.8,131.5 L122.7,130.9 L133.7,123.6 L144.6,113.7 L155.6,160.7 L166.6,122.2 L177.5,150.3 L188.5,148.7 L199.4,90.0 L210.4,89.4 L221.4,74.2 L232.3,99.9 L243.3,86.3 L254.2,90.4 L265.2,75.4 L276.2,90.4 L287.1,100.5 L298.1,106.6 L309.0,111.7 L320.0,115.7 L331.0,119.8 L341.9,123.8 L352.9,127.9 L363.8,130.9 L374.8,134.7 L385.8,140.2 L396.7,146.9 L407.7,151.6 L418.6,156.2 L429.6,159.0 L440.6,163.7 L451.5,169.4 L462.5,172.2 L473.4,172.8 L484.4,173.2 L495.4,181.5 L506.3,269.8 L517.3,264.3 L528.2,214.9 L539.2,216.2 L550.2,218.8 L561.1,222.0 L572.1,223.8 L583.0,225.7 L594.0,227.5 L605.0,229.1" fill="none" stroke-width="1.75" stroke-linejoin="round"/>
<g stroke="none"><circle cx="46.0" cy="110.9" r="2.05"/><circle cx="57.0" cy="115.7" r="2.05"/><circle cx="67.9" cy="112.5" r="2.05"/><circle cx="78.9" cy="127.7" r="2.05"/><circle cx="89.8" cy="155.2" r="2.05"/><circle cx="100.8" cy="151.8" r="2.05"/><circle cx="111.8" cy="131.5" r="2.05"/><circle cx="122.7" cy="130.9" r="2.05"/><circle cx="133.7" cy="123.6" r="2.05"/><circle cx="144.6" cy="113.7" r="2.05"/><circle cx="155.6" cy="160.7" r="2.05"/><circle cx="166.6" cy="122.2" r="2.05"/><circle cx="177.5" cy="150.3" r="2.05"/><circle cx="188.5" cy="148.7" r="2.05"/><circle cx="199.4" cy="90.0" r="2.05"/><circle cx="210.4" cy="89.4" r="2.05"/><circle cx="221.4" cy="74.2" r="2.05"/><circle cx="232.3" cy="99.9" r="2.05"/><circle cx="243.3" cy="86.3" r="2.05"/><circle cx="254.2" cy="90.4" r="2.05"/><circle cx="265.2" cy="75.4" r="2.05"/><circle cx="276.2" cy="90.4" r="2.05"/><circle cx="287.1" cy="100.5" r="2.05"/><circle cx="298.1" cy="106.6" r="2.05"/><circle cx="309.0" cy="111.7" r="2.05"/><circle cx="320.0" cy="115.7" r="2.05"/><circle cx="331.0" cy="119.8" r="2.05"/><circle cx="341.9" cy="123.8" r="2.05"/><circle cx="352.9" cy="127.9" r="2.05"/><circle cx="363.8" cy="130.9" r="2.05"/><circle cx="374.8" cy="134.7" r="2.05"/><circle cx="385.8" cy="140.2" r="2.05"/><circle cx="396.7" cy="146.9" r="2.05"/><circle cx="407.7" cy="151.6" r="2.05"/><circle cx="418.6" cy="156.2" r="2.05"/><circle cx="429.6" cy="159.0" r="2.05"/><circle cx="440.6" cy="163.7" r="2.05"/><circle cx="451.5" cy="169.4" r="2.05"/><circle cx="462.5" cy="172.2" r="2.05"/><circle cx="473.4" cy="172.8" r="2.05"/><circle cx="484.4" cy="173.2" r="2.05"/><circle cx="495.4" cy="181.5" r="2.05"/><circle cx="506.3" cy="269.8" r="2.05"/><circle cx="517.3" cy="264.3" r="2.05"/><circle cx="528.2" cy="214.9" r="2.05"/><circle cx="539.2" cy="216.2" r="2.05"/><circle cx="550.2" cy="218.8" r="2.05"/><circle cx="561.1" cy="222.0" r="2.05"/><circle cx="572.1" cy="223.8" r="2.05"/><circle cx="583.0" cy="225.7" r="2.05"/><circle cx="594.0" cy="227.5" r="2.05"/><circle cx="605.0" cy="229.1" r="2.05"/></g></g>
<g fill="#6a3fa0" stroke="#6a3fa0"><path d="M46.0,70.2 L57.0,74.2 L67.9,74.6 L78.9,76.2 L89.8,83.7 L100.8,78.2 L111.8,80.3 L122.7,83.1 L133.7,88.4 L144.6,101.3 L155.6,113.7 L166.6,79.3 L177.5,145.1 L188.5,141.0 L199.4,80.3 L210.4,79.3 L221.4,70.2 L232.3,84.3 L243.3,80.3 L254.2,82.3 L265.2,73.4 L276.2,88.4 L287.1,97.5 L298.1,103.6 L309.0,108.6 L320.0,112.7 L331.0,116.7 L341.9,120.4 L352.9,123.8 L363.8,127.9 L374.8,131.9 L385.8,136.0 L396.7,140.0 L407.7,147.5 L418.6,154.8 L429.6,160.3 L440.6,165.3 L451.5,169.4 L462.5,177.9 L473.4,182.5 L484.4,186.6 L495.4,189.0 L506.3,242.9 L517.3,232.4 L528.2,183.1 L539.2,184.4 L550.2,187.2 L561.1,189.0 L572.1,189.0 L583.0,188.4 L594.0,188.0 L605.0,187.8" fill="none" stroke-width="1.75" stroke-linejoin="round"/>
<g stroke="none"><circle cx="46.0" cy="70.2" r="2.05"/><circle cx="57.0" cy="74.2" r="2.05"/><circle cx="67.9" cy="74.6" r="2.05"/><circle cx="78.9" cy="76.2" r="2.05"/><circle cx="89.8" cy="83.7" r="2.05"/><circle cx="100.8" cy="78.2" r="2.05"/><circle cx="111.8" cy="80.3" r="2.05"/><circle cx="122.7" cy="83.1" r="2.05"/><circle cx="133.7" cy="88.4" r="2.05"/><circle cx="144.6" cy="101.3" r="2.05"/><circle cx="155.6" cy="113.7" r="2.05"/><circle cx="166.6" cy="79.3" r="2.05"/><circle cx="177.5" cy="145.1" r="2.05"/><circle cx="188.5" cy="141.0" r="2.05"/><circle cx="199.4" cy="80.3" r="2.05"/><circle cx="210.4" cy="79.3" r="2.05"/><circle cx="221.4" cy="70.2" r="2.05"/><circle cx="232.3" cy="84.3" r="2.05"/><circle cx="243.3" cy="80.3" r="2.05"/><circle cx="254.2" cy="82.3" r="2.05"/><circle cx="265.2" cy="73.4" r="2.05"/><circle cx="276.2" cy="88.4" r="2.05"/><circle cx="287.1" cy="97.5" r="2.05"/><circle cx="298.1" cy="103.6" r="2.05"/><circle cx="309.0" cy="108.6" r="2.05"/><circle cx="320.0" cy="112.7" r="2.05"/><circle cx="331.0" cy="116.7" r="2.05"/><circle cx="341.9" cy="120.4" r="2.05"/><circle cx="352.9" cy="123.8" r="2.05"/><circle cx="363.8" cy="127.9" r="2.05"/><circle cx="374.8" cy="131.9" r="2.05"/><circle cx="385.8" cy="136.0" r="2.05"/><circle cx="396.7" cy="140.0" r="2.05"/><circle cx="407.7" cy="147.5" r="2.05"/><circle cx="418.6" cy="154.8" r="2.05"/><circle cx="429.6" cy="160.3" r="2.05"/><circle cx="440.6" cy="165.3" r="2.05"/><circle cx="451.5" cy="169.4" r="2.05"/><circle cx="462.5" cy="177.9" r="2.05"/><circle cx="473.4" cy="182.5" r="2.05"/><circle cx="484.4" cy="186.6" r="2.05"/><circle cx="495.4" cy="189.0" r="2.05"/><circle cx="506.3" cy="242.9" r="2.05"/><circle cx="517.3" cy="232.4" r="2.05"/><circle cx="528.2" cy="183.1" r="2.05"/><circle cx="539.2" cy="184.4" r="2.05"/><circle cx="550.2" cy="187.2" r="2.05"/><circle cx="561.1" cy="189.0" r="2.05"/><circle cx="572.1" cy="189.0" r="2.05"/><circle cx="583.0" cy="188.4" r="2.05"/><circle cx="594.0" cy="188.0" r="2.05"/><circle cx="605.0" cy="187.8" r="2.05"/></g></g>
<g fill="#e060e8" stroke="#e060e8"><path d="M46.0,77.2 L57.0,87.2 L67.9,83.7 L78.9,84.5 L89.8,99.9 L100.8,91.4 L111.8,90.0 L122.7,95.1 L133.7,103.6 L144.6,113.7 L155.6,126.8 L166.6,95.1 L177.5,115.7 L188.5,120.8 L199.4,74.2 L210.4,73.6 L221.4,67.1 L232.3,82.9 L243.3,92.0 L254.2,92.4 L265.2,77.8 L276.2,90.4 L287.1,102.1 L298.1,107.8 L309.0,113.1 L320.0,118.8 L331.0,122.6 L341.9,128.1 L352.9,132.9 L363.8,137.6 L374.8,144.1 L385.8,147.9 L396.7,153.4 L407.7,157.8 L418.6,162.7 L429.6,166.3 L440.6,171.4 L451.5,175.0 L462.5,179.5 L473.4,184.4 L484.4,190.0 L495.4,190.6 L506.3,263.5 L517.3,252.4 L528.2,201.6 L539.2,204.4 L550.2,207.2 L561.1,209.7 L572.1,211.1 L583.0,212.3 L594.0,213.5 L605.0,214.5" fill="none" stroke-width="1.75" stroke-linejoin="round"/>
<g stroke="none"><circle cx="46.0" cy="77.2" r="2.05"/><circle cx="57.0" cy="87.2" r="2.05"/><circle cx="67.9" cy="83.7" r="2.05"/><circle cx="78.9" cy="84.5" r="2.05"/><circle cx="89.8" cy="99.9" r="2.05"/><circle cx="100.8" cy="91.4" r="2.05"/><circle cx="111.8" cy="90.0" r="2.05"/><circle cx="122.7" cy="95.1" r="2.05"/><circle cx="133.7" cy="103.6" r="2.05"/><circle cx="144.6" cy="113.7" r="2.05"/><circle cx="155.6" cy="126.8" r="2.05"/><circle cx="166.6" cy="95.1" r="2.05"/><circle cx="177.5" cy="115.7" r="2.05"/><circle cx="188.5" cy="120.8" r="2.05"/><circle cx="199.4" cy="74.2" r="2.05"/><circle cx="210.4" cy="73.6" r="2.05"/><circle cx="221.4" cy="67.1" r="2.05"/><circle cx="232.3" cy="82.9" r="2.05"/><circle cx="243.3" cy="92.0" r="2.05"/><circle cx="254.2" cy="92.4" r="2.05"/><circle cx="265.2" cy="77.8" r="2.05"/><circle cx="276.2" cy="90.4" r="2.05"/><circle cx="287.1" cy="102.1" r="2.05"/><circle cx="298.1" cy="107.8" r="2.05"/><circle cx="309.0" cy="113.1" r="2.05"/><circle cx="320.0" cy="118.8" r="2.05"/><circle cx="331.0" cy="122.6" r="2.05"/><circle cx="341.9" cy="128.1" r="2.05"/><circle cx="352.9" cy="132.9" r="2.05"/><circle cx="363.8" cy="137.6" r="2.05"/><circle cx="374.8" cy="144.1" r="2.05"/><circle cx="385.8" cy="147.9" r="2.05"/><circle cx="396.7" cy="153.4" r="2.05"/><circle cx="407.7" cy="157.8" r="2.05"/><circle cx="418.6" cy="162.7" r="2.05"/><circle cx="429.6" cy="166.3" r="2.05"/><circle cx="440.6" cy="171.4" r="2.05"/><circle cx="451.5" cy="175.0" r="2.05"/><circle cx="462.5" cy="179.5" r="2.05"/><circle cx="473.4" cy="184.4" r="2.05"/><circle cx="484.4" cy="190.0" r="2.05"/><circle cx="495.4" cy="190.6" r="2.05"/><circle cx="506.3" cy="263.5" r="2.05"/><circle cx="517.3" cy="252.4" r="2.05"/><circle cx="528.2" cy="201.6" r="2.05"/><circle cx="539.2" cy="204.4" r="2.05"/><circle cx="550.2" cy="207.2" r="2.05"/><circle cx="561.1" cy="209.7" r="2.05"/><circle cx="572.1" cy="211.1" r="2.05"/><circle cx="583.0" cy="212.3" r="2.05"/><circle cx="594.0" cy="213.5" r="2.05"/><circle cx="605.0" cy="214.5" r="2.05"/></g></g>
<g fill="#5b2d8c" stroke="#5b2d8c"><path d="M46.0,71.8 L57.0,74.6 L67.9,77.4 L78.9,78.2 L89.8,86.3 L100.8,80.3 L111.8,82.3 L122.7,85.1 L133.7,91.4 L144.6,100.5 L155.6,110.7 L166.6,100.5 L177.5,139.0 L188.5,137.0 L199.4,82.3 L210.4,81.3 L221.4,71.2 L232.3,88.4 L243.3,82.3 L254.2,84.3 L265.2,74.6 L276.2,85.3 L287.1,92.4 L298.1,98.5 L309.0,103.6 L320.0,108.2 L331.0,112.3 L341.9,116.1 L352.9,119.8 L363.8,123.4 L374.8,127.7 L385.8,133.3 L396.7,139.6 L407.7,145.9 L418.6,153.6 L429.6,159.2 L440.6,165.3 L451.5,171.4 L462.5,176.5 L473.4,181.9 L484.4,183.8 L495.4,239.2 L506.3,255.2 L517.3,244.7 L528.2,195.1 L539.2,199.8 L550.2,203.6 L561.1,206.2 L572.1,208.1 L583.0,211.5 L594.0,213.1 L605.0,213.3" fill="none" stroke-width="1.75" stroke-linejoin="round" stroke-dasharray="3.8,1.9"/>
<g stroke="none"><circle cx="46.0" cy="71.8" r="2.05"/><circle cx="57.0" cy="74.6" r="2.05"/><circle cx="67.9" cy="77.4" r="2.05"/><circle cx="78.9" cy="78.2" r="2.05"/><circle cx="89.8" cy="86.3" r="2.05"/><circle cx="100.8" cy="80.3" r="2.05"/><circle cx="111.8" cy="82.3" r="2.05"/><circle cx="122.7" cy="85.1" r="2.05"/><circle cx="133.7" cy="91.4" r="2.05"/><circle cx="144.6" cy="100.5" r="2.05"/><circle cx="155.6" cy="110.7" r="2.05"/><circle cx="166.6" cy="100.5" r="2.05"/><circle cx="177.5" cy="139.0" r="2.05"/><circle cx="188.5" cy="137.0" r="2.05"/><circle cx="199.4" cy="82.3" r="2.05"/><circle cx="210.4" cy="81.3" r="2.05"/><circle cx="221.4" cy="71.2" r="2.05"/><circle cx="232.3" cy="88.4" r="2.05"/><circle cx="243.3" cy="82.3" r="2.05"/><circle cx="254.2" cy="84.3" r="2.05"/><circle cx="265.2" cy="74.6" r="2.05"/><circle cx="276.2" cy="85.3" r="2.05"/><circle cx="287.1" cy="92.4" r="2.05"/><circle cx="298.1" cy="98.5" r="2.05"/><circle cx="309.0" cy="103.6" r="2.05"/><circle cx="320.0" cy="108.2" r="2.05"/><circle cx="331.0" cy="112.3" r="2.05"/><circle cx="341.9" cy="116.1" r="2.05"/><circle cx="352.9" cy="119.8" r="2.05"/><circle cx="363.8" cy="123.4" r="2.05"/><circle cx="374.8" cy="127.7" r="2.05"/><circle cx="385.8" cy="133.3" r="2.05"/><circle cx="396.7" cy="139.6" r="2.05"/><circle cx="407.7" cy="145.9" r="2.05"/><circle cx="418.6" cy="153.6" r="2.05"/><circle cx="429.6" cy="159.2" r="2.05"/><circle cx="440.6" cy="165.3" r="2.05"/><circle cx="451.5" cy="171.4" r="2.05"/><circle cx="462.5" cy="176.5" r="2.05"/><circle cx="473.4" cy="181.9" r="2.05"/><circle cx="484.4" cy="183.8" r="2.05"/><circle cx="495.4" cy="239.2" r="2.05"/><circle cx="506.3" cy="255.2" r="2.05"/><circle cx="517.3" cy="244.7" r="2.05"/><circle cx="528.2" cy="195.1" r="2.05"/><circle cx="539.2" cy="199.8" r="2.05"/><circle cx="550.2" cy="203.6" r="2.05"/><circle cx="561.1" cy="206.2" r="2.05"/><circle cx="572.1" cy="208.1" r="2.05"/><circle cx="583.0" cy="211.5" r="2.05"/><circle cx="594.0" cy="213.1" r="2.05"/><circle cx="605.0" cy="213.3" r="2.05"/></g></g>
</g>
<ellipse cx="483.8" cy="125.6" rx="10.3" ry="15.7" fill="none" stroke="#cc1226" stroke-width="3.1"/>
<ellipse cx="506.2" cy="182" rx="11.3" ry="17.3" fill="none" stroke="#1f6fd6" stroke-width="3.1"/>
<g font-size="5.05" fill="#505050" stroke="#505050" stroke-width="0.08">
<line x1="54" x2="71.8" y1="395.3" y2="395.3" stroke="#191b58" stroke-width="1.4"/><circle cx="62.9" cy="395.3" r="1.7" fill="#191b58" stroke="none"/><text x="73.4" y="397.2">VER</text>
<line x1="85.7" x2="101.9" y1="395.3" y2="395.3" stroke="#e08a3c" stroke-width="1.4" stroke-dasharray="3.8,1.9"/><circle cx="94.1" cy="395.3" r="1.7" fill="#e08a3c" stroke="none"/><text x="104.4" y="397.2">NOR</text>
<line x1="118.10000000000001" x2="134.3" y1="395.3" y2="395.3" stroke="#23a458" stroke-width="1.4" stroke-dasharray="3.8,1.9"/><circle cx="126.5" cy="395.3" r="1.7" fill="#23a458" stroke="none"/><text x="137" y="397.2">STR</text>
<line x1="149.1" x2="165.3" y1="395.3" y2="395.3" stroke="#12173f" stroke-width="1.4" stroke-dasharray="3.8,1.9"/><circle cx="157.5" cy="395.3" r="1.7" fill="#12173f" stroke="none"/><text x="168" y="397.2">TSU</text>
<line x1="180" x2="197.8" y1="395.3" y2="395.3" stroke="#2fd02f" stroke-width="1.4"/><circle cx="188.9" cy="395.3" r="1.7" fill="#2fd02f" stroke="none"/><text x="199" y="397.2">HUL</text>
<line x1="211.7" x2="227.9" y1="395.3" y2="395.3" stroke="#c6182e" stroke-width="1.4" stroke-dasharray="3.8,1.9"/><circle cx="220.1" cy="395.3" r="1.7" fill="#c6182e" stroke="none"/><text x="231" y="397.2">HAM</text>
<line x1="246" x2="263.8" y1="395.3" y2="395.3" stroke="#7fa650" stroke-width="1.4"/><circle cx="254.9" cy="395.3" r="1.7" fill="#7fa650" stroke="none"/><text x="264.8" y="397.2">RUS</text>
<line x1="277.5" x2="295.3" y1="395.3" y2="395.3" stroke="#e58a3a" stroke-width="1.4"/><circle cx="286.4" cy="395.3" r="1.7" fill="#e58a3a" stroke="none"/><text x="296" y="397.2">PIA</text>
<line x1="307.2" x2="323.4" y1="395.3" y2="395.3" stroke="#d85be0" stroke-width="1.4" stroke-dasharray="3.8,1.9"/><circle cx="315.6" cy="395.3" r="1.7" fill="#d85be0" stroke="none"/><text x="326" y="397.2">BEA</text>
<line x1="338" x2="355.8" y1="395.3" y2="395.3" stroke="#3f9be0" stroke-width="1.4"/><circle cx="346.9" cy="395.3" r="1.7" fill="#3f9be0" stroke="none"/><text x="357" y="397.2">HAD</text>
<line x1="371.6" x2="389.40000000000003" y1="395.3" y2="395.3" stroke="#e8a0cc" stroke-width="1.4"/><circle cx="380.5" cy="395.3" r="1.7" fill="#e8a0cc" stroke="none"/><text x="390" y="397.2">GAS</text>
<line x1="402.3" x2="418.5" y1="395.3" y2="395.3" stroke="#7fa650" stroke-width="1.4" stroke-dasharray="3.8,1.9"/><circle cx="410.70000000000005" cy="395.3" r="1.7" fill="#7fa650" stroke="none"/><text x="421.6" y="397.2">ANT</text>
<line x1="435.6" x2="453.40000000000003" y1="395.3" y2="395.3" stroke="#229954" stroke-width="1.4"/><circle cx="444.5" cy="395.3" r="1.7" fill="#229954" stroke="none"/><text x="454.2" y="397.2">ALO</text>
<line x1="467" x2="484.8" y1="395.3" y2="395.3" stroke="#d81e1e" stroke-width="1.4"/><circle cx="475.9" cy="395.3" r="1.7" fill="#d81e1e" stroke="none"/><text x="485.6" y="397.2">LEC</text>
<line x1="497.4" x2="515.1999999999999" y1="395.3" y2="395.3" stroke="#6a3fa0" stroke-width="1.4"/><circle cx="506.29999999999995" cy="395.3" r="1.7" fill="#6a3fa0" stroke="none"/><text x="516" y="397.2">ALB</text>
<line x1="528.6" x2="546.4" y1="395.3" y2="395.3" stroke="#e060e8" stroke-width="1.4"/><circle cx="537.5" cy="395.3" r="1.7" fill="#e060e8" stroke="none"/><text x="547" y="397.2">OCO</text>
<line x1="561.0" x2="577.1999999999999" y1="395.3" y2="395.3" stroke="#5b2d8c" stroke-width="1.4" stroke-dasharray="3.8,1.9"/><circle cx="569.4" cy="395.3" r="1.7" fill="#5b2d8c" stroke="none"/><text x="580" y="397.2">SAI</text>
</g>
</svg></body></html>
